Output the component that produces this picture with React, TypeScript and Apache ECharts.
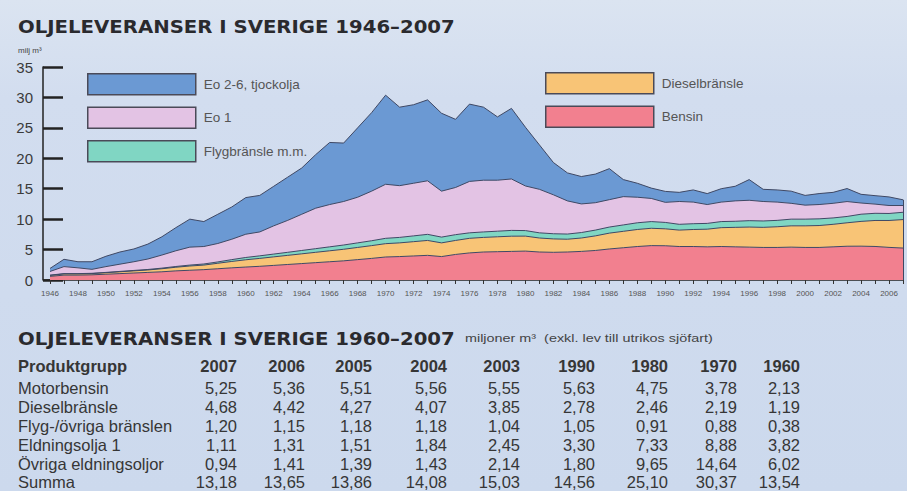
import React, { useEffect, useRef } from "react";
import * as echarts from "echarts";

// ---------- chart data (milj m³) ----------
const years = [
  "1946", "1947", "1948", "1949", "1950", "1951", "1952", "1953", "1954", "1955",
  "1956", "1957", "1958", "1959", "1960", "1961", "1962", "1963", "1964", "1965",
  "1966", "1967", "1968", "1969", "1970", "1971", "1972", "1973", "1974", "1975",
  "1976", "1977", "1978", "1979", "1980", "1981", "1982", "1983", "1984", "1985",
  "1986", "1987", "1988", "1989", "1990", "1991", "1992", "1993", "1994", "1995",
  "1996", "1997", "1998", "1999", "2000", "2001", "2002", "2003", "2004", "2005",
  "2006", "2007",
];
const bensin = [
  0.6, 0.8, 0.8, 0.85, 0.95, 1.05, 1.15, 1.25, 1.35, 1.5,
  1.6, 1.7, 1.85, 2.0, 2.13, 2.25, 2.4, 2.55, 2.7, 2.85,
  3.0, 3.15, 3.35, 3.55, 3.78, 3.85, 3.95, 4.05, 3.85, 4.2,
  4.45, 4.6, 4.65, 4.7, 4.75, 4.6, 4.55, 4.6, 4.7, 4.85,
  5.1, 5.3, 5.5, 5.65, 5.63, 5.5, 5.5, 5.45, 5.5, 5.45,
  5.4, 5.35, 5.35, 5.4, 5.35, 5.35, 5.45, 5.55, 5.56, 5.51,
  5.36, 5.25,
];
const diesel = [
  0.15, 0.2, 0.2, 0.2, 0.25, 0.3, 0.35, 0.4, 0.5, 0.6,
  0.7, 0.75, 0.9, 1.05, 1.19, 1.3, 1.4, 1.5, 1.6, 1.7,
  1.8, 1.9, 2.0, 2.1, 2.19, 2.25, 2.35, 2.45, 2.25, 2.3,
  2.4, 2.4, 2.45, 2.5, 2.46, 2.3, 2.2, 2.1, 2.2, 2.4,
  2.6, 2.7, 2.8, 2.85, 2.78, 2.7, 2.8, 2.9, 3.1, 3.2,
  3.3, 3.3, 3.4, 3.5, 3.55, 3.6, 3.7, 3.85, 4.07, 4.27,
  4.42, 4.68,
];
const flyg = [
  0.05, 0.05, 0.05, 0.05, 0.05, 0.06, 0.07, 0.08, 0.1, 0.12,
  0.15, 0.18, 0.22, 0.3, 0.38, 0.42, 0.46, 0.5, 0.55, 0.6,
  0.65, 0.7, 0.75, 0.8, 0.88, 0.9, 0.95, 1.0, 0.95, 0.95,
  0.9, 0.9, 0.92, 0.95, 0.91, 0.85, 0.85, 0.85, 0.9, 0.95,
  1.0, 1.05, 1.1, 1.1, 1.05, 0.95, 0.95, 0.95, 1.0, 1.0,
  1.05, 1.05, 1.05, 1.1, 1.1, 1.1, 1.05, 1.04, 1.18, 1.18,
  1.15, 1.2,
];
const eo1 = [
  0.6, 1.15, 0.95, 0.65, 0.95, 1.19, 1.43, 1.72, 2.15, 2.58,
  2.95, 2.87, 3.03, 3.35, 3.82, 3.93, 4.64, 5.25, 5.95, 6.65,
  6.95, 7.15, 7.5, 8.15, 8.88, 8.5, 8.65, 8.8, 7.55, 7.75,
  8.45, 8.5, 8.38, 8.45, 7.33, 7.15, 6.4, 5.45, 4.7, 4.5,
  4.5, 4.65, 4.2, 3.8, 3.3, 3.75, 3.55, 3.1, 3.2, 3.35,
  3.35, 3.2, 3.0, 2.6, 2.3, 2.35, 2.4, 2.45, 1.84, 1.51,
  1.31, 1.11,
];
const eo26 = [
  0.5, 1.2, 1.0, 1.25, 1.7, 2.0, 2.1, 2.45, 3.0, 3.8,
  4.6, 4.1, 4.8, 5.3, 6.02, 6.0, 6.5, 7.1, 7.6, 8.8,
  10.2, 9.6, 11.4, 12.9, 14.64, 12.9, 12.9, 13.3, 12.8, 11.2,
  12.7, 12.0, 10.4, 11.6, 9.65, 7.3, 5.3, 4.6, 4.5, 4.7,
  5.1, 2.8, 2.3, 1.7, 1.8, 1.5, 2.0, 1.8, 2.2, 2.4,
  3.4, 2.0, 2.0, 2.0, 1.6, 1.8, 1.8, 2.14, 1.43, 1.39,
  1.41, 0.94,
];
const seriesNames = ["Bensin", "Dieselbränsle", "Flygbränsle m.m.", "Eo 1", "Eo 2-6, tjockolja"];
const seriesColors = ["#f2808f", "#f8c476", "#80d6c3", "#e3c3e4", "#6b99d3"];
const legendLeft = ["Eo 2-6, tjockolja", "Eo 1", "Flygbränsle m.m."];
const legendRight = ["Dieselbränsle", "Bensin"];

// ---------- table data ----------
const tableYears = ["2007", "2006", "2005", "2004", "2003", "1990", "1980", "1970", "1960"];
const rowNames = ["Motorbensin", "Dieselbränsle", "Flyg-/övriga bränslen", "Eldningsolja 1", "Övriga eldningsoljor", "Summa"];
const motorbensin = [5.25, 5.36, 5.51, 5.56, 5.55, 5.63, 4.75, 3.78, 2.13];
const dieselbransle = [4.68, 4.42, 4.27, 4.07, 3.85, 2.78, 2.46, 2.19, 1.19];
const flygOvriga = [1.2, 1.15, 1.18, 1.18, 1.04, 1.05, 0.91, 0.88, 0.38];
const eldningsolja1 = [1.11, 1.31, 1.51, 1.84, 2.45, 3.3, 7.33, 8.88, 3.82];
const ovrigaEldningsoljor = [0.94, 1.41, 1.39, 1.43, 2.14, 1.8, 9.65, 14.64, 6.02];
const summa = [13.18, 13.65, 13.86, 14.08, 15.03, 14.56, 25.1, 30.37, 13.54];

const title1 = "OLJELEVERANSER I SVERIGE 1946–2007";
const title2 = "OLJELEVERANSER I SVERIGE 1960–2007";
const unitText = "miljoner m³  (exkl. lev till utrikos sjöfart)";

function measure(text: string, font: string): number {
  const ctx = document.createElement("canvas").getContext("2d");
  if (!ctx) return text.length * 10;
  ctx.font = font;
  return ctx.measureText(text).width;
}

export default function App() {
  const ref = useRef<HTMLDivElement>(null);
  useEffect(() => {
    if (!ref.current) return;
    const chart = echarts.init(ref.current, undefined, { renderer: "svg" });
    const comps = [bensin, diesel, flyg, eo1, eo26];
    const titleFont = 'bold 17px "DejaVu Sans"';
    const tScale = 437 / measure(title1, titleFont);
    const t2Scale = 437 / measure(title2, titleFont);
    const unitFont = '11px "Liberation Sans"';
    const uScale = 248 / measure(unitText, unitFont);
    const rows = [motorbensin, dieselbransle, flygOvriga, eldningsolja1, ovrigaEldningsoljor, summa];
    const colX = [237, 305, 372, 447, 520, 595, 668, 737, 800];
    const rowY = [387.5, 406.5, 425.5, 444.5, 463.5, 482];
    const txtColor = "#363636";
    const tFont = "Liberation Sans";
    const tSize = 16.5;

    const graphics: any[] = [
      {
        type: "text", x: 18, y: 27, scaleX: tScale,
        style: { text: title1, fontFamily: "DejaVu Sans", fontWeight: "bold", fontSize: 17, fill: "#2a2a2e", verticalAlign: "middle" },
      },
      {
        type: "text", x: 18, y: 50,
        style: { text: "milj m³", fontFamily: tFont, fontSize: 8, fill: "#444", verticalAlign: "middle" },
      },
      {
        type: "line", shape: { x1: 43, y1: 280, x2: 51, y2: 280 },
        style: { stroke: "#222", lineWidth: 1.5 },
      },
      {
        type: "text", x: 18, y: 339, scaleX: t2Scale,
        style: { text: title2, fontFamily: "DejaVu Sans", fontWeight: "bold", fontSize: 17, fill: "#2a2a2e", verticalAlign: "middle" },
      },
      {
        type: "text", x: 465, y: 338, scaleX: uScale,
        style: { text: unitText, fontFamily: tFont, fontSize: 11, fill: "#444", verticalAlign: "middle" },
      },
      {
        type: "text", x: 18, y: 366,
        style: { text: "Produktgrupp", fontFamily: tFont, fontWeight: "bold", fontSize: tSize, fill: txtColor, verticalAlign: "middle" },
      },
    ];
    tableYears.forEach((yr, i) => {
      graphics.push({
        type: "text", x: colX[i], y: 366,
        style: { text: yr, fontFamily: tFont, fontWeight: "bold", fontSize: tSize, fill: txtColor, align: "right", verticalAlign: "middle" },
      });
    });
    rowNames.forEach((name, r) => {
      graphics.push({
        type: "text", x: 18, y: rowY[r],
        style: { text: name, fontFamily: tFont, fontSize: tSize, fill: txtColor, verticalAlign: "middle" },
      });
      rows[r].forEach((v, i) => {
        graphics.push({
          type: "text", x: colX[i], y: rowY[r],
          style: { text: v.toFixed(2).replace(".", ","), fontFamily: tFont, fontSize: tSize, fill: txtColor, align: "right", verticalAlign: "middle" },
        });
      });
    });

    const lastTotal = comps.reduce((s, arr) => s + arr[arr.length - 1], 0);
    const lastYear = years[years.length - 1];

    const series = seriesNames.map((name, k) => {
      const s: any = {
        name,
        type: "line",
        stack: "total",
        symbol: "none",
        data: comps[k],
        itemStyle: { color: seriesColors[k] },
        lineStyle: { color: "#3f4864", width: 1 },
        areaStyle: { color: seriesColors[k], opacity: 1 },
      };
      if (k === 4) {
        s.markLine = {
          silent: true,
          symbol: "none",
          label: { show: false },
          lineStyle: { color: "#3f4864", width: 1, type: "solid" },
          data: [[{ coord: [lastYear, 0] }, { coord: [lastYear, lastTotal] }]],
        };
      }
      return s;
    });

    const legendCommon = {
      orient: "vertical",
      icon: "rect",
      itemWidth: 108,
      itemHeight: 21,
      itemGap: 11,
      padding: 0,
      selectedMode: false,
      itemStyle: { borderColor: "#4a4a58", borderWidth: 1.5 },
      textStyle: { fontFamily: tFont, fontSize: 13.5, color: "#555", padding: [0, 0, 0, 3] },
    };

    chart.setOption({
      animation: false,
      backgroundColor: {
        type: "linear", x: 0, y: 0, x2: 0, y2: 1,
        colorStops: [
          { offset: 0, color: "#dbe4f1" },
          { offset: 0.2, color: "#d2ddef" },
          { offset: 1, color: "#ccd9ed" },
        ],
      },
      grid: { left: 50, right: 4, top: 67, bottom: 211, containLabel: false },
      legend: [
        { ...legendCommon, data: legendLeft, left: 87, top: 73 },
        { ...legendCommon, data: legendRight, left: 545, top: 72 },
      ],
      xAxis: {
        type: "category",
        data: years,
        boundaryGap: false,
        axisLine: { show: true, lineStyle: { color: "#222", width: 1.5 } },
        axisTick: { show: true, length: 4, interval: 0, lineStyle: { color: "#333", width: 1 } },
        axisLabel: { interval: 1, fontSize: 8, color: "#555", margin: 9, fontFamily: tFont },
        splitLine: { show: false },
      },
      yAxis: {
        type: "value",
        min: 0,
        max: 35,
        interval: 5,
        offset: 7,
        axisLine: { show: true, lineStyle: { color: "#222", width: 1.5 } },
        axisTick: { show: true, inside: true, length: 20, lineStyle: { color: "#222", width: 2.5 } },
        axisLabel: { fontSize: 15, color: "#3a3a3a", margin: 10, fontFamily: tFont },
        splitLine: { show: false },
      },
      series,
      graphic: graphics,
    });
    return () => chart.dispose();
  }, []);
  return <div ref={ref} style={{ position: "absolute", left: 0, top: 0, width: 907, height: 491 }} />;
}
